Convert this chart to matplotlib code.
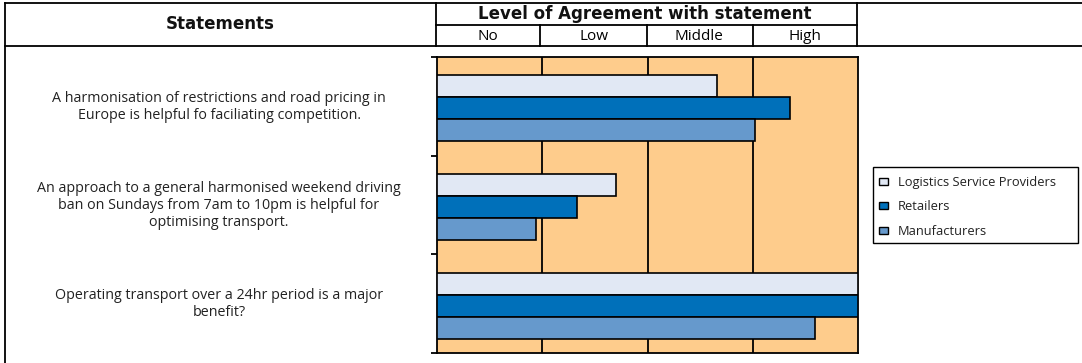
import matplotlib
matplotlib.use("Agg")
import matplotlib.pyplot as plt
from matplotlib.lines import Line2D
from matplotlib.patches import Patch, Rectangle
import numpy as np

plt.rcParams['font.family'] = ['Open Sans', 'DejaVu Sans']

statements = [
    "A harmonisation of restrictions and road pricing in\nEurope is helpful fo faciliating competition.",
    "An approach to a general harmonised weekend driving\nban on Sundays from 7am to 10pm is helpful for\noptimising transport.",
    "Operating transport over a 24hr period is a major\nbenefit?",
]
series_names = ["Logistics Service Providers", "Retailers", "Manufacturers"]
lsp = [2.66, 1.70, 4.00]
retailers = [3.35, 1.33, 4.00]
manufacturers = [3.02, 0.94, 3.59]
levels = ["No", "Low", "Middle", "High"]
colors = ["#E1E8F4", "#0070BA", "#6699CC"]
bg = "#FECC8C"

W, H = 1082, 363
fig = plt.figure(figsize=(W / 100, H / 100), dpi=100)

def fx(px):
    return px / W

def fy(py):
    return 1 - py / H

# plot area
L, R, T, B = 437, 858, 57, 353
ax = fig.add_axes([fx(L), fy(B), fx(R) - fx(L), fy(T) - fy(B)])
ax.set_facecolor(bg)
ax.set_xlim(0, 4)
ax.set_ylim(2.5, -0.5)
ax.set_xticks([1, 2, 3])
ax.xaxis.grid(True, color="black", lw=1.3)
ax.set_axisbelow(True)
ax.tick_params(axis="x", length=0, labelbottom=False)
ax.set_yticks([-0.5, 0.5, 1.5, 2.5])
ax.tick_params(axis="y", length=4, width=1.3, direction="out", labelleft=False)
for s in ax.spines.values():
    s.set_color("black")
    s.set_linewidth(1.3)

y = np.arange(len(statements))
h = 0.223
off = 0.02
for i, (vals, c) in enumerate(zip([lsp, retailers, manufacturers], colors)):
    ax.barh(y + (i - 1) * h + off, vals, height=h, color=c, edgecolor="black",
            lw=1.2, zorder=3, label=series_names[i])

# statements text
for i, s in enumerate(statements):
    fig.text(fx(219), fy(T + (B - T) * (i + 0.5) / 3 + 0.5), s, ha="center", va="center",
             fontsize=10.3, linespacing=1.22, color="#222222")

# table lines
def hline(yp, x0, x1):
    fig.add_artist(Line2D([fx(x0), fx(x1)], [fy(yp), fy(yp)], color="black", lw=1.3))

def vline(xp, y0, y1):
    fig.add_artist(Line2D([fx(xp), fx(xp)], [fy(y0), fy(y1)], color="black", lw=1.3))

hline(3, 5, 1082)
hline(46, 5, 1082)
vline(5, 3, 363)
vline(436, 3, 46)
vline(857, 3, 46)
hline(25, 436, 857)
for xp in [540, 647, 753]:
    vline(xp, 25, 46)

fig.text(fx(220), fy(24), "Statements", ha="center", va="center", fontsize=12,
         fontweight="bold", family="DejaVu Sans", color="#111111")
fig.text(fx(645), fy(14), "Level of Agreement with statement", ha="center",
         va="center", fontsize=12, fontweight="bold", family="DejaVu Sans",
         color="#111111")
for lv, xc in zip(levels, [488, 594, 699, 805]):
    fig.text(fx(xc), fy(36), lv, ha="center", va="center", fontsize=11)

# legend box
fig.add_artist(Rectangle((fx(873), fy(243)), fx(1078) - fx(873), fy(167) - fy(243),
                         transform=fig.transFigure, facecolor="white",
                         edgecolor="black", lw=1.0))
handles = [Patch(facecolor=c, edgecolor="black", lw=1) for c in colors]
leg = fig.legend(handles, series_names, loc="upper left",
                 bbox_to_anchor=(fx(870), fy(167)), frameon=False, fontsize=9.3,
                 handlelength=0.7, handleheight=0.45, handletextpad=0.8,
                 labelspacing=0.9, borderpad=0.68, borderaxespad=0)
for t in leg.get_texts():
    t.set_color("#222222")

fig.savefig("out.png", dpi=100)
